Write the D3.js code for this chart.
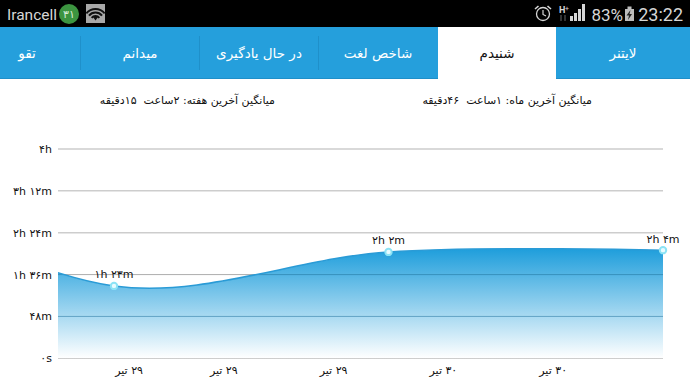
<!DOCTYPE html>
<html>
<head>
<meta charset="utf-8">
<style>
  html, body { margin: 0; padding: 0; background: #fff; overflow: hidden; }
  text { font-family: "DejaVu Sans", sans-serif; white-space: pre; }
  text.status { font-family: Roboto, sans-serif; }
</style>
<script src="https://cdn.jsdelivr.net/npm/d3@7"></script>
</head>
<body>
<svg id="chart" width="690" height="388"></svg>
<script>
// Series: minutes per sample, the first sample sits left of the visible plot
const samples = [0, 1, 2, 3];
const minutes = [205, 83, 122, 124];
const pointLabels = [null, '۱h ۲۳m', '۲h ۲m', '۲h ۴m'];

// Axis ticks
const yTicks = [0, 48, 96, 144, 192, 240];
const yTickLabels = ['۰s', '۴۸m', '۱h ۳۶m', '۲h ۲۴m', '۳h ۱۲m', '۴h'];
const xTicks = [1.055, 1.4, 1.8, 2.2, 2.6];
const xTickLabels = ['۲۹ تیر', '۲۹ تیر', '۲۹ تیر', '۳۰ تیر', '۳۰ تیر'];

// Tabs, the last one is cut off by the edge of the screen
const tabLabels = ['لایتنر', 'شنیدم', 'شاخص لغت', 'در حال یادگیری', 'میدانم', 'تقو'];
const tabCenters = [623, 497, 378, 259, 140, 27];
const tabDividers = [80, 199, 318];

const averageLabels = ['میانگین آخرین هفته: ۲ساعت  ۱۵دقیقه', 'میانگین آخرین ماه: ۱ساعت  ۴۶دقیقه'];
const averageRight = [275, 592];

const svg = d3.select('#chart');
const defs = svg.append('defs');

// Status bar
const statusGrey = '#d6d6d6';
svg.append('rect').attr('width', 690).attr('height', 27).attr('fill', '#000');
svg.append('text').attr('class', 'status').attr('x', 7).attr('y', 20).attr('fill', statusGrey)
  .attr('font-size', 15.5).text('Irancell');
svg.append('circle').attr('cx', 69).attr('cy', 14).attr('r', 10).attr('fill', '#3c9440');
svg.append('text').attr('x', 69).attr('y', 18).attr('fill', '#d8ecd8')
  .attr('font-size', 11).attr('text-anchor', 'middle').text('۳۱');
svg.append('rect').attr('x', 86).attr('y', 4).attr('width', 19).attr('height', 19)
  .attr('fill', '#a8a8a8');
[13, 9.5, 6].forEach(r => {
  const arc = d3.arc().innerRadius(r - 2).outerRadius(r)
    .startAngle(-Math.PI / 3.6).endAngle(Math.PI / 3.6);
  svg.append('path').attr('d', arc()).attr('transform', 'translate(95.5,21)')
    .attr('fill', '#111');
});
svg.append('path').attr('d', 'M93 17 L98 17 L95.5 20.5 Z').attr('fill', '#111');

svg.append('text').attr('class', 'status').attr('x', 683).attr('y', 21).attr('text-anchor', 'end')
  .attr('fill', statusGrey).attr('font-size', 18).text('23:22');
svg.append('text').attr('class', 'status').attr('x', 623).attr('y', 21).attr('text-anchor', 'end')
  .attr('fill', statusGrey).attr('font-size', 17).text('83%');
svg.append('rect').attr('x', 625).attr('y', 9).attr('width', 9).attr('height', 12).attr('fill', '#bdbdbd');
svg.append('rect').attr('x', 627.5).attr('y', 6.5).attr('width', 4).attr('height', 2.5).attr('fill', '#bdbdbd');
svg.append('path').attr('d', 'M630.5 10 L626.5 15.5 L629 15.5 L628 20 L632 14 L629.5 14 Z').attr('fill', '#222');

// Signal bars
[5, 8, 12, 17].forEach((h, i) => {
  svg.append('rect').attr('x', 570 + i * 4).attr('y', 21 - h).attr('width', 3).attr('height', h)
    .attr('fill', statusGrey);
});
svg.append('text').attr('class', 'status').attr('x', 559).attr('y', 13).attr('fill', statusGrey)
  .attr('font-size', 9).attr('font-weight', 'bold').text('H');
svg.append('text').attr('class', 'status').attr('x', 565).attr('y', 11).attr('fill', statusGrey)
  .attr('font-size', 7).text('+');
svg.append('path').attr('d', 'M561 15 V21 M565 15 V21').attr('stroke', '#555').attr('stroke-width', 1.2);

// Alarm clock
svg.append('circle').attr('cx', 543).attr('cy', 14).attr('r', 6.5)
  .attr('fill', 'none').attr('stroke', statusGrey).attr('stroke-width', 1.3);
svg.append('path').attr('d', 'M543 10 V14.5 L546 16').attr('fill', 'none')
  .attr('stroke', statusGrey).attr('stroke-width', 1.2);
svg.append('path').attr('d', 'M535 9 L538.5 6 M551 9 L547.5 6').attr('stroke', statusGrey)
  .attr('stroke-width', 1.6);

// Tab bar
svg.append('rect').attr('y', 27).attr('width', 690).attr('height', 52).attr('fill', '#259fdc');
svg.append('rect').attr('y', 78).attr('width', 690).attr('height', 1).attr('fill', '#1f8fc9');
svg.append('rect').attr('x', 438).attr('y', 27).attr('width', 118).attr('height', 52).attr('fill', '#fff');
tabDividers.forEach(x => {
  svg.append('rect').attr('x', x).attr('y', 36).attr('width', 1).attr('height', 34).attr('fill', '#1f90ca');
});
tabLabels.forEach((t, i) => {
  svg.append('text').attr('x', tabCenters[i]).attr('y', 58).attr('text-anchor', 'middle')
    .attr('fill', i === 1 ? '#111' : '#fff').attr('font-size', 13.5).text(t);
});

// Averages
averageLabels.forEach((t, i) => {
  svg.append('text').attr('x', averageRight[i]).attr('y', 104).attr('text-anchor', 'end')
    .attr('fill', '#111').attr('font-size', 11).text(t);
});

// Chart
const plotLeft = 58;
const plotRight = 663;
const x = d3.scaleLinear().domain([1, 3]).range([114, plotRight]);
const y = d3.scaleLinear().domain([0, 240]).range([358.3, 149]);

const curve = d3.curveCardinal.tension(0);
const area = d3.area().x(d => x(d)).y0(y(0)).y1(d => y(minutes[d])).curve(curve);
const line = d3.line().x(d => x(d)).y(d => y(minutes[d])).curve(curve);

const gradient = defs.append('linearGradient').attr('id', 'areaFill')
  .attr('gradientUnits', 'userSpaceOnUse')
  .attr('x1', 0).attr('y1', y(124)).attr('x2', 0).attr('y2', y(0));
gradient.append('stop').attr('offset', 0).attr('stop-color', '#219fdc');
gradient.append('stop').attr('offset', 1).attr('stop-color', '#ffffff');

defs.append('clipPath').attr('id', 'plotClip').append('rect')
  .attr('x', plotLeft).attr('y', 100).attr('width', plotRight - plotLeft).attr('height', 270);
defs.append('clipPath').attr('id', 'areaClip').append('path').attr('d', area(samples));

svg.append('g').selectAll('line').data(yTicks).join('line')
  .attr('x1', plotLeft).attr('x2', plotRight)
  .attr('y1', d => y(d)).attr('y2', d => y(d))
  .attr('stroke', d => d === 96 || d === 0 ? '#adadad' : '#cdcdcd')
  .attr('stroke-width', d => d === 96 || d === 0 ? 1 : 1.5);

const plot = svg.append('g').attr('clip-path', 'url(#plotClip)');
plot.append('path').attr('d', area(samples)).attr('fill', 'url(#areaFill)');

// Grid shows through the fill as a darker tint
plot.append('g').attr('clip-path', 'url(#areaClip)')
  .selectAll('line').data(yTicks.filter(d => d > 0 && d < 144)).join('line')
  .attr('x1', plotLeft).attr('x2', plotRight)
  .attr('y1', d => y(d)).attr('y2', d => y(d))
  .attr('stroke', '#1d6f9a').attr('stroke-opacity', 0.5);

plot.append('path').attr('d', line(samples)).attr('fill', 'none').attr('stroke', '#2a9bd6').attr('stroke-width', 1.5);

// Axis labels
svg.append('g').selectAll('text').data(yTicks).join('text')
  .attr('x', 52).attr('y', d => y(d) + 4).attr('text-anchor', 'end')
  .attr('fill', '#111').attr('font-size', 11).text((d, i) => yTickLabels[i]);
svg.append('g').selectAll('text').data(xTicks).join('text')
  .attr('x', d => x(d)).attr('y', 374).attr('text-anchor', 'middle')
  .style('direction', 'rtl')
  .attr('fill', '#111').attr('font-size', 11).text((d, i) => xTickLabels[i]);

// Points and their labels
const shown = samples.filter(i => pointLabels[i]);
svg.append('g').selectAll('circle').data(shown).join('circle')
  .attr('cx', d => x(d)).attr('cy', d => y(minutes[d])).attr('r', 3.2)
  .attr('fill', '#e8fbff').attr('stroke', '#8ce3f5').attr('stroke-width', 2);
svg.append('g').selectAll('text').data(shown).join('text')
  .attr('x', d => x(d)).attr('y', d => y(minutes[d]) - 7.5).attr('text-anchor', 'middle')
  .attr('fill', '#111').attr('font-size', 11).text(d => pointLabels[d]);
</script>
</body>
</html>
